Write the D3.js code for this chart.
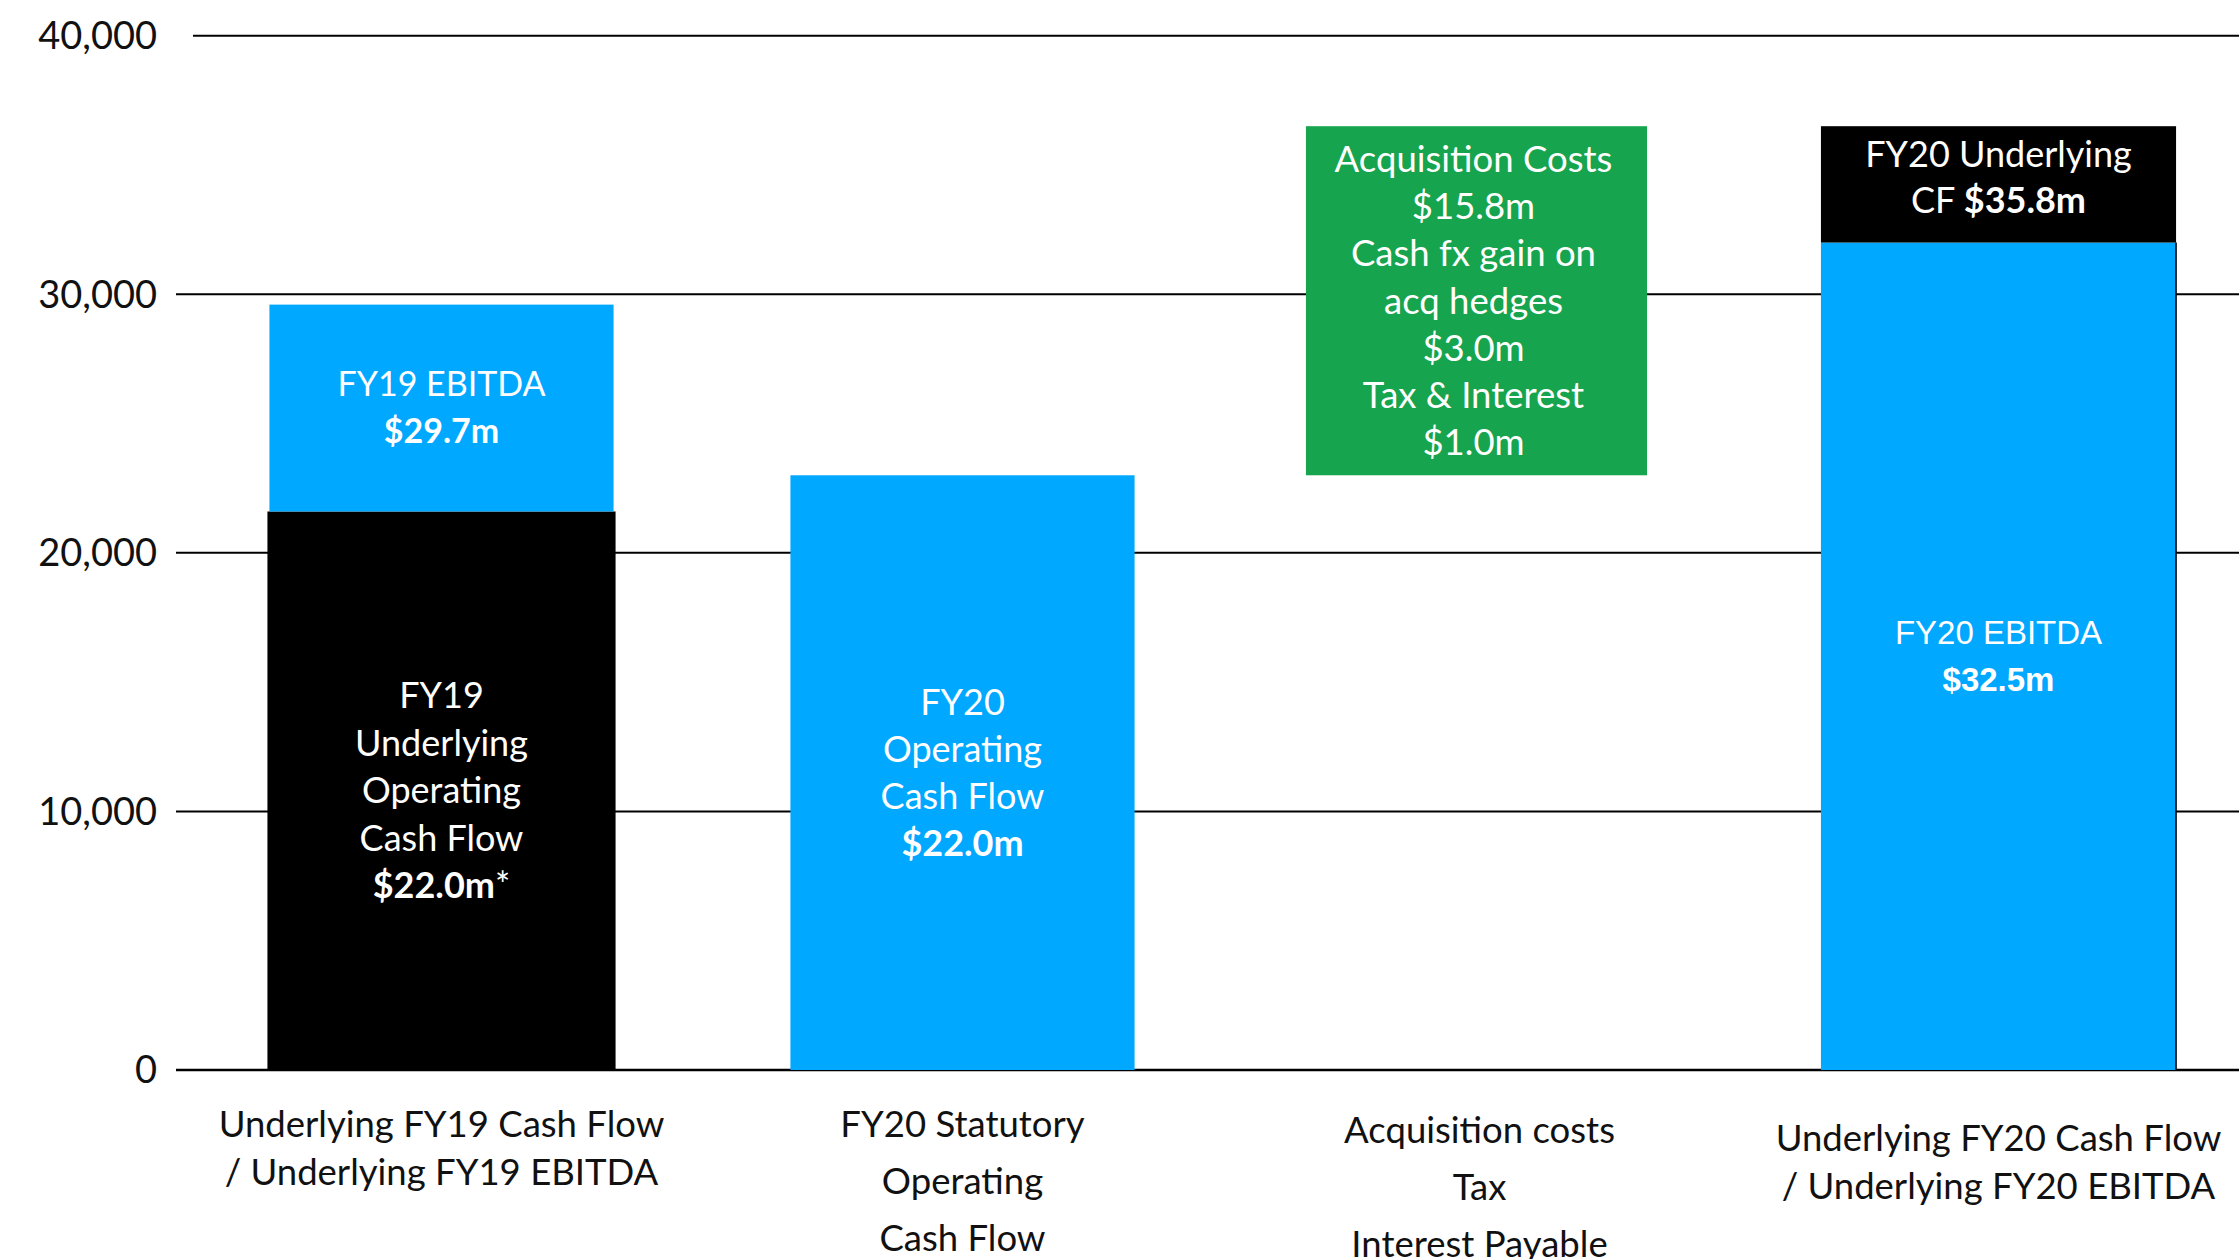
<!DOCTYPE html>
<html>
<head>
<meta charset="utf-8">
<script src="https://cdn.jsdelivr.net/npm/d3@7"></script>
<style>
  html, body { margin: 0; padding: 0; background: #fff; }
  svg { display: block; }
</style>
</head>
<body>
<svg id="chart" width="2239" height="1259"></svg>
<script>
// ---------------- DATA ----------------
const categories = ["FY19", "FY20 Statutory", "Adjustments", "FY20 Underlying"];
const categoryLabels = [
  ["Underlying FY19 Cash Flow", "/ Underlying FY19 EBITDA"],
  ["FY20 Statutory", "Operating", "Cash Flow"],
  ["Acquisition costs", "Tax", "Interest Payable"],
  ["Underlying FY20 Cash Flow", "/ Underlying FY20 EBITDA"]
];
const yTicks = [0, 10000, 20000, 30000, 40000];

// stacked / floating segments
const segCategory = [0, 0, 1, 2, 3, 3];
const segLow  = [0,     21600, 0,     23000, 0,     32000];
const segHigh = [21600, 29600, 23000, 36500, 32000, 36500];
const segKind = ["black", "blue", "blue", "green", "blue", "black"];
const segLabels = [
  ["FY19", "Underlying", "Operating", "Cash Flow", "**$22.0m***"],
  ["FY19 EBITDA", "**$29.7m**"],
  ["FY20", "Operating", "Cash Flow", "**$22.0m**"],
  ["Acquisition Costs", "$15.8m", "Cash fx gain on", "acq hedges", "$3.0m", "Tax & Interest", "$1.0m"],
  ["FY20 EBITDA", "**$32.5m**"],
  ["FY20 Underlying", "CF **$35.8m**"]
];

// ---------------- STYLE ----------------
const W = 2239, H = 1259;
const colors = { black: "#000000", blue: "#00A8FF", green: "#17A44E" };
const FONT = "Lato, 'Open Sans', sans-serif";
const segFont = [FONT, FONT, FONT, FONT, "'Liberation Sans', Arial, sans-serif", FONT];
const segFontSize = [36, 34, 36, 36.5, 33, 36];
const segLineH = [47.5, 47, 47, 47.3, 47, 46];
const segWidthAdj = [3, -1, -1, -4, 10, 10];
const segDx = [0, 0, 2, -3, 0, 0];

const svg = d3.select("#chart");

const y = d3.scaleLinear().domain([0, 40000]).range([1070, 35.7]);
const x = d3.scaleBand().domain(categories).range([182, 2258])
  .paddingInner(0.335).paddingOuter(0.1675);

// gridlines
svg.append("g").selectAll("line").data(yTicks).join("line")
  .attr("x1", d => d === 40000 ? 193 : 176)
  .attr("x2", W)
  .attr("y1", d => y(d)).attr("y2", d => y(d))
  .attr("stroke", "#000").attr("stroke-width", d => d === 0 ? 2.5 : 2);

// y axis labels
const yAxis = d3.axisLeft(y).tickValues(yTicks).tickSize(0).tickPadding(0)
  .tickFormat(d3.format(","));
const ga = svg.append("g").attr("transform", "translate(157,0)").call(yAxis);
ga.select(".domain").remove();
ga.selectAll("text").attr("font-family", FONT).attr("font-size", 38)
  .attr("fill", "#111").attr("dy", "0.34em");

// bars
const segIdx = d3.range(segLow.length);
svg.append("g").selectAll("rect").data(segIdx).join("rect")
  .attr("x", i => x(categories[segCategory[i]]) - segWidthAdj[i] / 2 + segDx[i])
  .attr("width", i => x.bandwidth() + segWidthAdj[i])
  .attr("y", i => y(segHigh[i]))
  .attr("height", i => y(segLow[i]) - y(segHigh[i]))
  .attr("fill", i => colors[segKind[i]]);

// thin edge line at right of final blue bar
svg.append("line")
  .attr("x1", x(categories[3]) + x.bandwidth() + 5).attr("x2", x(categories[3]) + x.bandwidth() + 5)
  .attr("y1", y(segHigh[4])).attr("y2", y(0))
  .attr("stroke", "#000").attr("stroke-width", 1.5);

function addRich(textSel, line) {
  const parts = line.split("**");
  parts.forEach((p, k) => {
    if (!p) return;
    textSel.append("tspan").attr("font-weight", k % 2 === 1 ? 700 : 400).text(p);
  });
}

// labels inside segments
segIdx.forEach(i => {
  const lines = segLabels[i];
  const cx = x(categories[segCategory[i]]) + x.bandwidth() / 2 + segDx[i] + (i === 3 ? -3 : 0);
  const cy = (y(segLow[i]) + y(segHigh[i])) / 2 + (i === 5 ? -7 : 0);
  const lh = segLineH[i];
  lines.forEach((ln, k) => {
    const t = svg.append("text")
      .attr("x", cx)
      .attr("y", cy + (k - (lines.length - 1) / 2) * lh)
      .attr("dy", "0.35em")
      .attr("text-anchor", "middle")
      .attr("font-family", segFont[i])
      .attr("font-size", segFontSize[i])
      .attr("fill", "#fff");
    addRich(t, ln);
  });
});

// category labels
const catTop = [1124, 1124, 1130, 1138];
const catLH = [48, 57, 57, 48];
categoryLabels.forEach((lines, c) => {
  const cx = x(categories[c]) + x.bandwidth() / 2 + (c === 1 ? 2 : 0);
  lines.forEach((ln, k) => {
    svg.append("text")
      .attr("x", cx)
      .attr("y", catTop[c] + k * catLH[c])
      .attr("dy", "0.35em")
      .attr("text-anchor", "middle")
      .attr("font-family", FONT)
      .attr("font-size", 36.5)
      .attr("fill", "#111")
      .text(ln);
  });
});
</script>
</body>
</html>
